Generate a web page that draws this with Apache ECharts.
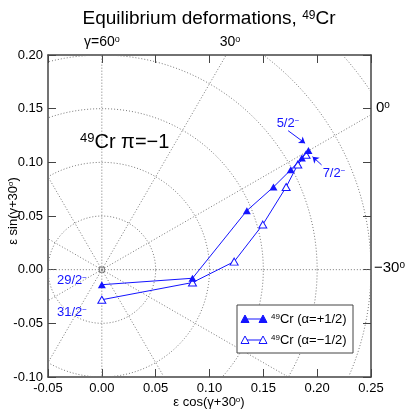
<!DOCTYPE html>
<html><head><meta charset="utf-8">
<script src="https://cdn.jsdelivr.net/npm/echarts@6/dist/echarts.min.js"></script>
<style>html,body{margin:0;padding:0;background:#fff}#c{width:409px;height:414px}</style>
</head><body><div id="c"></div>
<script>
// ---- data ----
const alphaPlusX  = [0.000, 0.0842, 0.1347, 0.1594, 0.1755, 0.1858, 0.1919];
const alphaPlusY  = [-0.014, -0.008, 0.055, 0.077, 0.093, 0.104, 0.111];
const alphaMinusX = [0.000, 0.0842, 0.1229, 0.1495, 0.1712, 0.1820, 0.1897];
const alphaMinusY = [-0.028, -0.012, 0.0075, 0.042, 0.077, 0.098, 0.107];
const xTickMin = -0.05, xTickMax = 0.25, tickStep = 0.05;
const yTickMin = -0.10, yTickMax = 0.20;
const gridRadii = [0.05, 0.10, 0.15, 0.20, 0.25, 0.30];
const gridAngles = [0, 30, 60, 90, 120, 150, 180, 210, 240, 270, 300, 330];
const arrow52 = [[0.1730, 0.1295], [0.1888, 0.1178]];
const arrow72 = [[0.2041, 0.0976], [0.1957, 0.1053]];

const FONT = '"Liberation Sans", Arial, Helvetica, sans-serif';
const BLUE = '#1414ff';
const GRIDC = '#777';
const AX = '#444';

function zip(a, b) { return a.map((v, i) => [v, b[i]]); }
function circle(r) {
  const p = [];
  for (let a = 0; a <= 360; a += 2) { const t = a * Math.PI / 180; p.push([r * Math.cos(t), r * Math.sin(t)]); }
  return p;
}
const gridStyle = { color: GRIDC, width: 1, type: [1, 2] };
const series = [];
gridRadii.forEach(r => series.push({
  type: 'line', data: circle(r), showSymbol: false, silent: true, z: 1,
  lineStyle: gridStyle
}));
gridAngles.forEach(a => {
  const t = a * Math.PI / 180;
  series.push({
    type: 'line', data: [[0, 0], [0.6 * Math.cos(t), 0.6 * Math.sin(t)]], showSymbol: false, silent: true, z: 1,
    lineStyle: gridStyle
  });
});
series.push({
  type: 'scatter', data: [[0, 0]], symbol: 'rect', symbolSize: 5, silent: true, z: 2,
  itemStyle: { color: 'rgba(0,0,0,0)', borderColor: '#555', borderWidth: 1 }
});
series.push({
  type: 'line', name: 'plus', data: zip(alphaPlusX, alphaPlusY), symbol: 'triangle', symbolSize: [8, 7],
  z: 5, lineStyle: { color: BLUE, width: 1 }, itemStyle: { color: BLUE },
  markLine: {
    silent: true, symbol: ['none', 'arrow'], symbolSize: 6, label: { show: false },
    lineStyle: { color: BLUE, width: 1, type: 'solid' },
    data: [
      [{ coord: arrow52[0] }, { coord: arrow52[1] }],
      [{ coord: arrow72[0] }, { coord: arrow72[1] }]
    ]
  }
});
series.push({
  type: 'line', name: 'minus', data: zip(alphaMinusX, alphaMinusY), symbol: 'triangle', symbolSize: [8, 7],
  z: 4, lineStyle: { color: BLUE, width: 1 },
  itemStyle: { color: '#fff', borderColor: BLUE, borderWidth: 1 }
});

const axisCommon = {
  type: 'value', interval: tickStep,
  axisLine: { show: true, onZero: false, lineStyle: { color: AX, width: 1.5 } },
  axisTick: { show: true, inside: true, length: 8, lineStyle: { color: AX, width: 1 } },
  splitLine: { show: false }
};
const labelStyle = { color: '#000', fontSize: 13, fontFamily: FONT, margin: 5, formatter: v => v.toFixed(2) };

const sup = { fontSize: 9, verticalAlign: 'top', fontFamily: FONT, lineHeight: 9 };
function txt(text, x, y, size, color, extra) {
  return Object.assign({
    type: 'text', x: x, y: y, silent: true, z: 50,
    style: Object.assign({
      text: text, fontSize: size, fontFamily: FONT, fill: color || '#000',
      align: 'center', verticalAlign: 'middle',
      rich: { sup: Object.assign({}, sup, { fontSize: Math.round(size * 0.65), lineHeight: Math.round(size * 0.65), fill: color || '#000' }) }
    }, extra || {})
  });
}

const graphics = [
  txt('Equilibrium deformations, {sup|49}Cr', 209, 19, 19),
  txt('γ=60{sup|o}', 102, 42, 14),
  txt('30{sup|o}', 230, 42, 14),
  txt('0{sup|o}', 376, 108, 15, '#000', { align: 'left' }),
  txt('−30{sup|o}', 374, 268, 15, '#000', { align: 'left' }),
  txt('{sup|49}Cr π=−1', 80, 142, 20, '#000', { align: 'left' }),
  txt('5/2{sup|−}', 288, 123, 13, BLUE),
  txt('7/2{sup|−}', 334, 173, 13, BLUE),
  txt('29/2{sup|−}', 72, 280, 13, BLUE),
  txt('31/2{sup|−}', 72, 312, 13, BLUE),
  txt('ε cos(γ+30{sup|o})', 209, 402, 13),
  Object.assign(txt('ε sin(γ+30{sup|o})', 13, 211, 13), { rotation: Math.PI / 2 })
];
// legend
const L = { x: 237, y: 305, w: 116, h: 48 };
graphics.push({ type: 'rect', shape: { x: L.x, y: L.y, width: L.w, height: L.h }, style: { fill: '#fff', stroke: AX, lineWidth: 1 }, z: 40, silent: true });
function tri(cx, cy, filled) {
  return { type: 'polygon', shape: { points: [[cx, cy - 4], [cx + 4, cy + 3.5], [cx - 4, cy + 3.5]] },
    style: { fill: filled ? BLUE : '#fff', stroke: BLUE, lineWidth: 1 }, z: 42, silent: true };
}
[[319, true, '{sup|49}Cr (α=+1/2)'], [340, false, '{sup|49}Cr (α=−1/2)']].forEach(([yy, f, t]) => {
  graphics.push({ type: 'line', shape: { x1: 245, y1: yy, x2: 263, y2: yy }, style: { stroke: BLUE, lineWidth: 1 }, z: 41, silent: true });
  graphics.push(tri(245, yy, f));
  graphics.push(tri(263, yy, f));
  graphics.push(txt(t, 271, yy, 13, '#000', { align: 'left' }));
});

const chart = echarts.init(document.getElementById('c'), null, { renderer: 'canvas' });
chart.setOption({
  animation: false,
  backgroundColor: '#fff',
  grid: { left: 48, right: 38, top: 55, bottom: 37, containLabel: false },
  xAxis: [
    Object.assign({}, axisCommon, { min: xTickMin, max: xTickMax, position: 'bottom', axisLabel: labelStyle }),
    Object.assign({}, axisCommon, { min: xTickMin, max: xTickMax, position: 'top', axisLabel: { show: false } })
  ],
  yAxis: [
    Object.assign({}, axisCommon, { min: yTickMin, max: yTickMax, position: 'left', axisLabel: labelStyle }),
    Object.assign({}, axisCommon, { min: yTickMin, max: yTickMax, position: 'right', axisLabel: { show: false } })
  ],
  series: series,
  graphic: graphics
});
</script></body></html>
